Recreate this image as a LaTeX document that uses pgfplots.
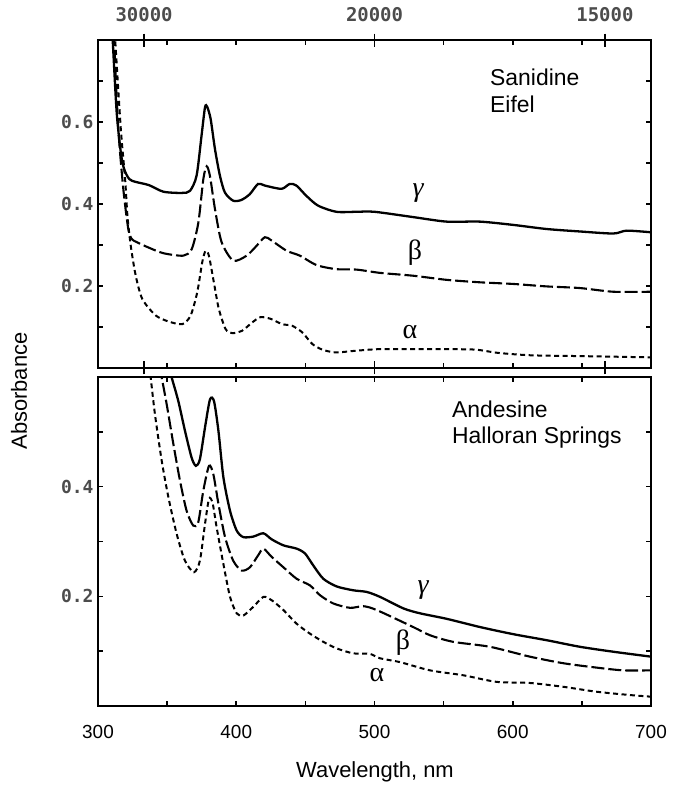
\documentclass[border=0pt]{standalone}
\usepackage{pgfplots}
\pgfplotsset{compat=1.18}
\usepackage{fontspec}
\setmainfont{Liberation Sans}
\newfontfamily\monofont{DejaVu Sans Mono}
\newfontfamily\greekfont{Liberation Serif}

\pgfplotsset{
  panel/.style={
    scale only axis, width=553bp, xmin=300, xmax=700,
    axis line style={line width=2.5bp},
    every tick/.style={line width=1.6bp, black},
    tick align=inside, major tick length=5bp,
    yticklabel style={font=\monofont\bfseries\fontsize{18}{18}\selectfont, text=black!70, xshift=-1bp},
  },
  gam/.style={black, line width=2.3bp, smooth, tension=0.45},
  bet/.style={black, line width=2.1bp, smooth, tension=0.45, dash pattern=on 13bp off 4bp},
  alp/.style={black, line width=2bp, smooth, tension=0.45, dash pattern=on 5bp off 3.5bp},
}

\begin{document}
\begin{tikzpicture}
\path (0bp,0bp) rectangle (684bp,-788bp);

% ---------------- top panel ----------------
\begin{axis}[panel, at={(98bp,-40bp)}, anchor=north west, height=328bp,
  ymin=0, ymax=0.8,
  ytick={0.1,0.2,0.3,0.4,0.5,0.6,0.7}, yticklabels={,0.2,,0.4,,0.6,},
  xtick={350,400,450,550,600,650}, xticklabels={},
  xticklabel pos=upper,
  extra x ticks={333.333,500,666.667},
  extra x tick labels={30000,20000,15000},
  extra x tick style={tick align=center, major tick length=13bp,
    tick label style={font=\monofont\bfseries\fontsize{19}{19}\selectfont, text=black!70, yshift=8bp}},
]
\addplot[gam] table {
309.0 0.90
310.6 0.802
313.5 0.624
316.5 0.526
318.9 0.485
322.6 0.461
327.1 0.454
336.9 0.446
347.3 0.430
360.5 0.427
366.5 0.432
371.3 0.469
374.9 0.567
377.4 0.636
379.0 0.637
381.5 0.607
384.6 0.534
388.2 0.469
391.8 0.428
397.8 0.408
403.8 0.410
409.8 0.424
415.8 0.449
420.6 0.445
432.7 0.437
438.7 0.449
443.5 0.445
450.7 0.420
459.2 0.396
472.4 0.381
486.9 0.381
500.0 0.381
528.1 0.368
552.2 0.357
576.3 0.357
600.4 0.349
624.5 0.339
648.6 0.333
672.7 0.328
682.4 0.335
700.0 0.331
};
\addplot[bet] table {
310.2 0.90
311.6 0.802
314.7 0.583
318.3 0.437
321.9 0.339
324.3 0.315
328.0 0.307
336.4 0.294
347.3 0.280
361.7 0.274
367.8 0.290
372.6 0.355
376.2 0.461
378.6 0.492
381.0 0.468
384.6 0.388
389.4 0.307
397.8 0.262
407.5 0.274
414.7 0.298
420.7 0.319
425.5 0.311
436.4 0.286
446.0 0.274
458.1 0.251
472.5 0.241
487.0 0.240
504.0 0.232
528.1 0.225
552.2 0.215
576.3 0.209
600.4 0.205
624.5 0.199
648.6 0.195
672.7 0.186
700.0 0.186
};
\addplot[alp] table {
310.5 0.90
312.4 0.802
316.5 0.583
319.6 0.461
321.3 0.371
323.7 0.298
327.3 0.225
332.1 0.168
341.8 0.128
351.4 0.113
361.0 0.107
367.0 0.128
371.8 0.185
375.4 0.258
377.8 0.286
380.2 0.274
383.8 0.209
387.4 0.144
392.3 0.095
397.1 0.085
404.3 0.091
411.5 0.111
417.5 0.124
424.8 0.120
433.2 0.107
440.4 0.103
447.7 0.087
454.9 0.059
462.1 0.045
471.8 0.038
486.3 0.042
504.0 0.046
540.0 0.046
572.0 0.045
589.0 0.037
613.0 0.031
649.0 0.029
700.0 0.026
};
\end{axis}

% ---------------- bottom panel ----------------
\begin{axis}[panel, at={(98bp,-377bp)}, anchor=north west, height=329bp,
  ymin=0, ymax=0.6,
  ytick={0.1,0.2,0.3,0.4,0.5}, yticklabels={,0.2,,0.4,},
  xtick={300,350,400,450,500,550,600,650,700},
  xticklabels={300,,400,,500,,600,,700},
  xticklabel style={font=\fontsize{19}{19}\selectfont, yshift=-16bp},
]
\addplot[gam] table {
347.6 0.65
353.3 0.599
358.1 0.556
362.9 0.502
367.7 0.453
370.8 0.438
373.7 0.450
377.4 0.508
381.0 0.559
383.9 0.556
387.1 0.502
390.7 0.417
395.5 0.356
400.3 0.320
405.1 0.308
412.4 0.309
419.6 0.315
425.6 0.304
434.1 0.293
443.7 0.287
449.8 0.278
455.8 0.256
463.0 0.232
472.7 0.218
484.7 0.211
494.4 0.208
504.0 0.199
520.9 0.178
533.0 0.169
552.2 0.159
576.3 0.144
600.4 0.131
624.5 0.120
648.6 0.108
672.7 0.099
700.0 0.090
};
\addplot[bet] table {
342.4 0.65
346.1 0.599
349.7 0.550
354.5 0.478
359.3 0.411
364.1 0.356
368.9 0.329
372.5 0.335
376.2 0.393
380.3 0.438
383.4 0.423
387.1 0.369
391.9 0.308
397.8 0.265
403.9 0.247
409.9 0.253
415.9 0.275
419.6 0.287
425.6 0.272
434.1 0.253
443.7 0.232
453.3 0.220
460.6 0.202
470.2 0.187
482.3 0.179
491.9 0.182
501.6 0.175
528.0 0.144
540.2 0.129
557.0 0.117
583.5 0.108
612.4 0.090
636.6 0.078
660.7 0.070
680.0 0.065
700.0 0.065
};
\addplot[alp] table {
335.7 0.65
338.1 0.599
341.2 0.532
346.1 0.447
350.9 0.381
356.9 0.314
362.9 0.265
369.4 0.244
373.7 0.265
377.4 0.332
380.3 0.378
382.9 0.370
385.8 0.326
390.7 0.259
395.5 0.199
400.3 0.169
405.1 0.165
412.4 0.181
419.6 0.199
425.6 0.193
434.1 0.175
443.7 0.150
453.3 0.132
463.0 0.117
472.7 0.105
484.7 0.096
496.7 0.095
504.0 0.087
518.5 0.080
540.2 0.065
564.3 0.056
588.4 0.044
612.4 0.042
636.6 0.035
660.7 0.026
684.8 0.020
700.0 0.017
};
\end{axis}

% ---------------- texts ----------------
\begin{scope}[every node/.style={inner sep=0pt}]
\node[anchor=base west, font=\fontsize{23}{23}\selectfont] at (490bp,-85bp) {Sanidine};
\node[anchor=base west, font=\fontsize{23}{23}\selectfont] at (490bp,-112bp) {Eifel};
\node[anchor=base west, font=\fontsize{23}{23}\selectfont] at (452bp,-417bp) {Andesine};
\node[anchor=base west, font=\fontsize{23}{23}\selectfont] at (452bp,-443bp) {Halloran Springs};
\node[font=\greekfont\itshape\fontsize{28}{28}\selectfont] at (418bp,-193bp) {γ};
\node[font=\greekfont\fontsize{28}{28}\selectfont] at (415bp,-253bp) {β};
\node[font=\greekfont\fontsize{28}{28}\selectfont] at (410bp,-332bp) {α};
\node[font=\greekfont\itshape\fontsize{28}{28}\selectfont] at (423bp,-590bp) {γ};
\node[font=\greekfont\fontsize{28}{28}\selectfont] at (403bp,-643bp) {β};
\node[font=\greekfont\fontsize{28}{28}\selectfont] at (377bp,-675bp) {α};
\node[rotate=90, font=\fontsize{22}{22}\selectfont] at (19bp,-391bp) {Absorbance};
\node[font=\fontsize{22}{22}\selectfont] at (375bp,-772bp) {Wavelength, nm};
\end{scope}
\end{tikzpicture}
\end{document}
